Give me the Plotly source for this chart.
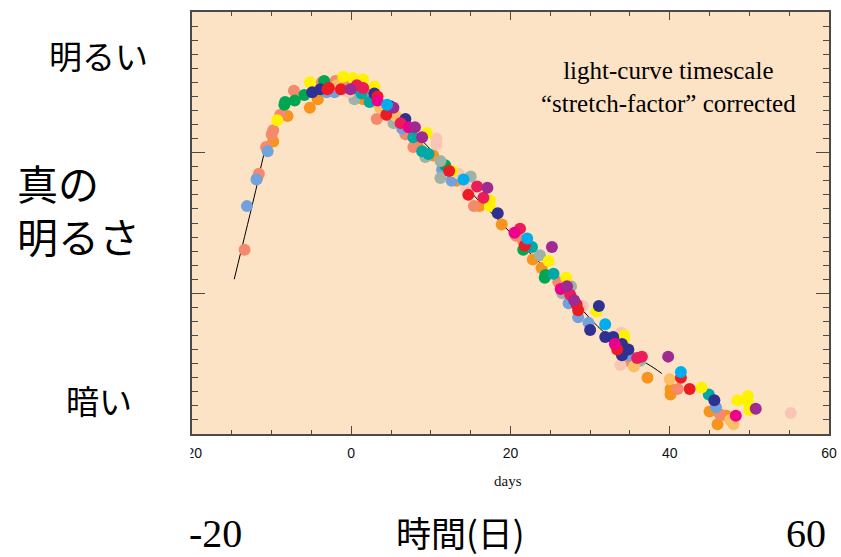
import plotly.graph_objects as go

# ---- data (days since peak, magnitude below the top of the frame) ----
orange_x = [-9.8, -8.0, -5.2, -4.2, -2.1, 1.5, 8.3, 10.3, 13.2, 16.1, 18.9, 22.8, 23.9, 37.2, 40.1, 40.1, 45.0, 47.1, 46.0]
orange_y = [0.92, 0.74, 0.68, 0.62, 0.55, 0.62, 0.94, 1.02, 1.20, 1.38, 1.51, 1.76, 1.82, 2.60, 2.68, 2.72, 2.84, 2.87, 2.93]

salmon_x = [-13.4, -11.6, -11.8, -10.7, -9.8, -10.0, -8.9, -7.2, -3.7, -2.0, -1.2, -1.0, -0.1, 2.3, 3.2, 4.9, 6.8, 7.8, 15.4, 20.7, 21.6, 26.0, 34.8, 41.0, 46.3]
salmon_y = [1.69, 1.15, 1.18, 0.96, 0.84, 0.87, 0.73, 0.56, 0.50, 0.49, 0.48, 0.49, 0.51, 0.59, 0.76, 0.74, 0.87, 0.96, 1.38, 1.59, 1.63, 1.92, 2.48, 2.68, 2.86]

lightblue_x = [-13.1, -11.9, -10.5, -3.1, -2.1, 6.4, 11.4, 12.6, 27.3, 28.5, 29.8, 34.9, 45.8]
lightblue_y = [1.38, 1.19, 0.99, 0.57, 0.57, 0.83, 1.12, 1.20, 2.07, 2.17, 2.21, 2.44, 2.81]

yellow_x = [-9.3, -5.2, -1.0, 0.2, 1.5, 2.9, 9.5, 12.7, 17.4, 17.4, 24.8, 27.0, 30.8, 34.3, 34.3, 44.0, 48.5, 49.8, 49.8, 50.0]
yellow_y = [0.77, 0.50, 0.46, 0.47, 0.48, 0.53, 0.86, 1.13, 1.34, 1.38, 1.77, 1.89, 2.13, 2.30, 2.33, 2.67, 2.76, 2.73, 2.77, 2.83]

green_x = [-8.3, -8.4, -7.1, -5.9, -3.4, 11.8, 21.6, 24.4, 24.3]
green_y = [0.64, 0.66, 0.63, 0.59, 0.49, 1.09, 1.69, 1.87, 1.89]

navy_x = [-4.9, -3.9, 2.9, 4.9, 6.8, 18.4, 31.1, 30.0, 31.9, 32.9, 34.0, 34.8, 34.0, 45.6]
navy_y = [0.57, 0.55, 0.58, 0.67, 0.76, 1.43, 2.09, 2.26, 2.31, 2.31, 2.36, 2.40, 2.44, 2.76]

red_x = [-3.0, -2.8, -1.3, 3.3, 4.4, 12.3, 14.7, 21.8, 28.3, 28.5, 33.4, 41.4, 42.5]
red_y = [0.55, 0.54, 0.55, 0.60, 0.73, 1.13, 1.30, 1.66, 2.08, 2.12, 2.40, 2.60, 2.68]

crimson_x = [0.7, 1.5, 6.2, 15.8, 16.6, 21.2, 27.5, 36.5, 35.9]
crimson_y = [0.52, 0.54, 0.79, 1.24, 1.32, 1.54, 2.01, 2.45, 2.46]

magenta_x = [3.3, 7.2, 20.5, 26.3, 33.1, 48.3]
magenta_y = [0.63, 0.82, 1.57, 1.97, 2.36, 2.87]

purple_x = [-0.1, 5.3, 8.0, 8.9, 17.1, 25.2, 27.1, 28.0, 39.8, 50.8]
purple_y = [0.55, 0.68, 0.82, 0.89, 1.25, 1.67, 1.95, 2.05, 2.45, 2.82]

cyan_x = [4.5, 14.1, 22.1, 31.9, 41.4]
cyan_y = [0.66, 1.19, 1.61, 2.22, 2.56]

teal_x = [0.5, 1.3, 2.3, 7.8, 8.9, 9.7, 22.7, 25.4, 44.9]
teal_y = [0.54, 0.58, 0.64, 0.89, 0.99, 1.01, 1.67, 1.86, 2.72]

gray_x = [0.4, 5.3, 9.3, 11.2, 11.2, 15.0, 23.7, 27.6, 26.5, 36.3]
gray_y = [0.62, 0.79, 1.03, 1.06, 1.18, 1.17, 1.73, 1.95, 2.00, 2.48]

lightpink_x = [-0.3, 3.0, 10.7, 10.7, 13.5, 14.4, 29.1, 33.9, 33.8, 55.2]
lightpink_y = [0.57, 0.64, 0.90, 0.94, 1.15, 1.25, 2.09, 2.28, 2.51, 2.85]

lightorange_x = [-1.8, 3.6, 5.6, 35.5, 40.0, 47.6, 48.0]
lightorange_y = [0.52, 0.68, 0.74, 2.52, 2.61, 2.90, 2.93]

template_x = [-14.7, -12.0, -10.8, -9.5, -8.5, -7, -6, -5, -4, -3, -2, -1, 0, 1, 2, 3, 4, 5, 6, 7, 8, 9, 10,
              12, 14, 16, 18, 20, 22, 24, 26, 28, 30, 32, 34, 36, 38, 39]
template_y = [1.90, 1.27, 0.98, 0.79, 0.70, 0.63, 0.60, 0.575, 0.555, 0.54, 0.53, 0.525, 0.525, 0.535, 0.555,
              0.585, 0.63, 0.68, 0.74, 0.80, 0.86, 0.92, 0.98, 1.10, 1.22, 1.34, 1.45, 1.57, 1.69, 1.80,
              1.92, 2.05, 2.18, 2.29, 2.38, 2.46, 2.53, 2.57]

x_ticks = [-20, 0, 20, 40, 60]

series = [
    (orange_x, orange_y, "#f7941d"),
    (salmon_x, salmon_y, "#f4896b"),
    (lightblue_x, lightblue_y, "#72a2dc"),
    (green_x, green_y, "#00a651"),
    (gray_x, gray_y, "#9fb2a8"),
    (lightpink_x, lightpink_y, "#f9c6b6"),
    (lightorange_x, lightorange_y, "#fdbf66"),
    (teal_x, teal_y, "#00a9a4"),
    (yellow_x, yellow_y, "#fff200"),
    (navy_x, navy_y, "#2e3192"),
    (red_x, red_y, "#ed1c24"),
    (crimson_x, crimson_y, "#ec1c5b"),
    (magenta_x, magenta_y, "#ec008c"),
    (purple_x, purple_y, "#9e2a92"),
    (cyan_x, cyan_y, "#00aeef"),
]

fig = go.Figure()
fig.add_trace(go.Scatter(x=template_x, y=template_y, mode="lines",
                         line=dict(color="black", width=1, shape="spline"),
                         showlegend=False, hoverinfo="skip"))
for xs, ys, c in series:
    fig.add_trace(go.Scatter(x=xs, y=ys, mode="markers",
                             marker=dict(color=c, size=12, line=dict(width=0)),
                             showlegend=False))

PL, PR, PT, PB = 192, 829, 12, 434
W, H = 841, 557


def px(x):
    return (x - PL) / (PR - PL)


def py(y):
    return (PB - y) / (PB - PT)


axis_line = "#4a4a4a"
fig.update_xaxes(range=[-20, 60], tickvals=x_ticks, ticktext=[str(v) for v in x_ticks], automargin=False,
                 showgrid=False, zeroline=False, showline=True, linecolor=axis_line, linewidth=2,
                 mirror="ticks", ticks="inside", ticklen=8, tickcolor=axis_line, tickwidth=1,
                 minor=dict(dtick=5, tick0=0, ticks="inside", ticklen=4, tickcolor=axis_line, showgrid=False),
                 tickfont=dict(family="Liberation Sans Narrow, Liberation Sans, Arial", size=14, color="#111"),
                 ticklabelstandoff=5)
fig.update_yaxes(range=[3, 0], tick0=0, dtick=1, showticklabels=False, automargin=False,
                 showgrid=False, zeroline=False, showline=True, linecolor=axis_line, linewidth=2,
                 mirror="ticks", ticks="inside", ticklen=13, tickcolor=axis_line, tickwidth=1,
                 minor=dict(dtick=0.1, tick0=0, ticks="inside", ticklen=6, tickcolor=axis_line, showgrid=False))

serif = "Liberation Serif, Times New Roman, serif"
cjk = "Noto Sans CJK JP"
ann = [
    dict(x=px(668), y=py(87), text="light-curve timescale<br>“stretch-factor” corrected",
         font=dict(family=serif, size=25, color="black")),
    dict(x=px(508), y=py(481), text="days", font=dict(family=serif, size=15, color="#111")),
    dict(x=px(98), y=py(55), text="明るい", font=dict(family=cjk, size=33, color="black")),
    dict(x=px(15), y=py(208), text="真の<br>明るさ", xanchor="left", align="left",
         font=dict(family=cjk, size=41, color="black")),
    dict(x=px(99), y=py(400), text="暗い", font=dict(family=cjk, size=33, color="black")),
    dict(x=px(215), y=py(533), text="-20", font=dict(family=serif, size=40, color="black")),
    dict(x=px(460), y=py(531), text="時間(日)", font=dict(family=cjk, size=35, color="black")),
    dict(x=px(806), y=py(533), text="60", font=dict(family=serif, size=40, color="black")),
]
for a in ann:
    a.setdefault("xanchor", "center")
    fig.add_annotation(xref="paper", yref="paper", yanchor="middle", showarrow=False, **a)

# crop the left part of the first tick label like the reference
fig.add_shape(type="rect", xref="paper", yref="paper", x0=px(150), x1=px(190.5), y0=py(470), y1=py(437),
              fillcolor="white", line=dict(width=0), layer="above")

fig.update_layout(width=W, height=H, margin=dict(l=PL, r=W - PR, t=PT, b=H - PB, autoexpand=False),
                  paper_bgcolor="white", plot_bgcolor="#fde3c6")

fig.write_html("out.html", config={"displayModeBar": False},
               post_script="document.body.style.margin='0';document.body.style.overflow='hidden';")
